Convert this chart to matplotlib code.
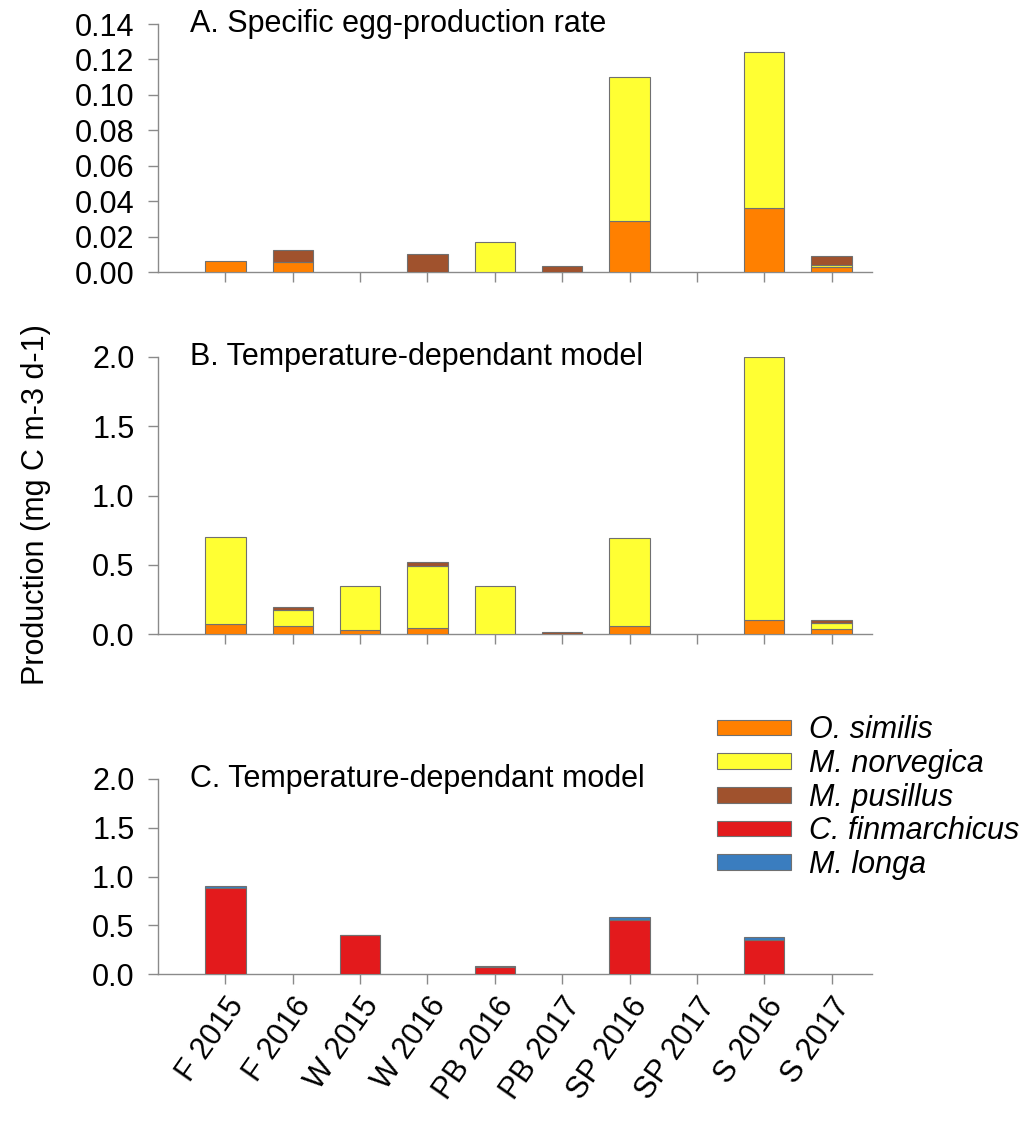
import matplotlib
matplotlib.use("Agg")
import matplotlib.pyplot as plt
from matplotlib.patches import Patch
import numpy as np

plt.rcParams['font.family'] = ['Liberation Sans', 'DejaVu Sans']

categories = ["F 2015", "F 2016", "W 2015", "W 2016", "PB 2016",
              "PB 2017", "SP 2016", "SP 2017", "S 2016", "S 2017"]

# Panel A: specific egg-production rate
a_osimilis   = [0.0063, 0.0056, 0.0, 0.0,    0.0,    0.0,    0.029, 0.0, 0.036, 0.003]
a_mnorvegica = [0.0,    0.0,    0.0, 0.0,    0.0168, 0.0,    0.081, 0.0, 0.088, 0.0011]
a_mpusillus  = [0.0,    0.007,  0.0, 0.0099, 0.0,    0.0032, 0.0,   0.0, 0.0,   0.0051]

# Panel B: temperature-dependant model
b_osimilis   = [0.073, 0.060, 0.027, 0.046, 0.0,  0.0,   0.060, 0.0, 0.100, 0.035]
b_mnorvegica = [0.625, 0.112, 0.323, 0.444, 0.35, 0.0,   0.630, 0.0, 1.900, 0.041]
b_mpusillus  = [0.0,   0.022, 0.0,   0.030, 0.0,  0.016, 0.0,   0.0, 0.0,   0.022]

# Panel C: temperature-dependant model
c_cfinmarchicus = [0.88, 0.0, 0.397, 0.0, 0.075, 0.0, 0.55, 0.0, 0.351, 0.0]
c_mlonga        = [0.02, 0.0, 0.008, 0.0, 0.008, 0.0, 0.03, 0.0, 0.032, 0.0]

species = ["O. similis", "M. norvegica", "M. pusillus", "C. finmarchicus", "M. longa"]
colors = {"O. similis": "#FF8000", "M. norvegica": "#FFFF33",
          "M. pusillus": "#A0522D", "C. finmarchicus": "#E31A1C",
          "M. longa": "#3A7DBF"}

W, H = 1029, 1142
FS = 22
fig = plt.figure(figsize=(W / 100, H / 100), dpi=100)

def px_axes(x0, x1, ytop, ybot):
    return fig.add_axes([x0 / W, 1 - ybot / H, (x1 - x0) / W, (ybot - ytop) / H])

axA = px_axes(158, 872, 24, 272)
axB = px_axes(158, 872, 357, 634)
axC = px_axes(158, 872, 779, 974)

x = np.arange(len(categories))
bw = 0.6
edge = "#707070"
spine_col = "#8a8a8a"

def stack(ax, series):
    bottom = np.zeros(len(categories))
    for name, vals in series:
        vals = np.array(vals, dtype=float)
        mask = vals > 0
        ax.bar(x[mask], vals[mask], bw, bottom=bottom[mask], color=colors[name],
               edgecolor=edge, linewidth=0.8, zorder=3)
        bottom = bottom + vals

stack(axA, [("O. similis", a_osimilis), ("M. norvegica", a_mnorvegica),
            ("M. pusillus", a_mpusillus)])
stack(axB, [("O. similis", b_osimilis), ("M. norvegica", b_mnorvegica),
            ("M. pusillus", b_mpusillus)])
stack(axC, [("C. finmarchicus", c_cfinmarchicus), ("M. longa", c_mlonga)])

for ax in (axA, axB, axC):
    ax.set_xlim(-1.0, 9.6)
    ax.set_xticks(x)
    for s in ("top", "right"):
        ax.spines[s].set_visible(False)
    for s in ("left", "bottom"):
        ax.spines[s].set_color(spine_col)
        ax.spines[s].set_linewidth(1.0)
    ax.tick_params(axis="both", colors=spine_col, labelcolor="black",
                   labelsize=FS, length=7, width=1.0, direction="out")
    ax.tick_params(axis="y", pad=10)

axA.set_ylim(0, 0.14)
axA.set_yticks(np.arange(0, 0.141, 0.02))
axA.set_yticklabels([f"{v:.2f}" for v in np.arange(0, 0.141, 0.02)])
axA.set_xticklabels([])

for ax in (axB, axC):
    ax.set_ylim(0, 2.0)
    ax.set_yticks(np.arange(0, 2.01, 0.5))
    ax.set_yticklabels([f"{v:.1f}" for v in np.arange(0, 2.01, 0.5)])
axB.set_xticklabels([])
axC.set_xticklabels(categories, rotation=55, ha="right", va="top",
                    rotation_mode="anchor", fontsize=FS)
axC.tick_params(axis="x", pad=6)

axA.text(32 / 714, 1.0, "A. Specific egg-production rate", transform=axA.transAxes,
         fontsize=FS, va="center", ha="left")
axB.text(32 / 714, 1.0, "B. Temperature-dependant model", transform=axB.transAxes,
         fontsize=FS, va="center", ha="left")
axC.text(32 / 714, 1.0, "C. Temperature-dependant model", transform=axC.transAxes,
         fontsize=FS, va="center", ha="left")

fig.text(36 / W, 1 - 505 / H, "Production (mg C m-3 d-1)", rotation=90,
         fontsize=FS, ha="center", va="center")

handles = [Patch(facecolor=colors[s], edgecolor=edge, linewidth=0.8) for s in species]
leg = fig.legend(handles, species, loc="upper left",
                 bbox_to_anchor=(696 / W, 1 - 694 / H), frameon=False,
                 prop={"style": "italic", "size": FS}, handlelength=2.4,
                 handleheight=0.42, labelspacing=0.12, handletextpad=0.6,
                 borderpad=0.2)

fig.savefig("out.png", dpi=100)
